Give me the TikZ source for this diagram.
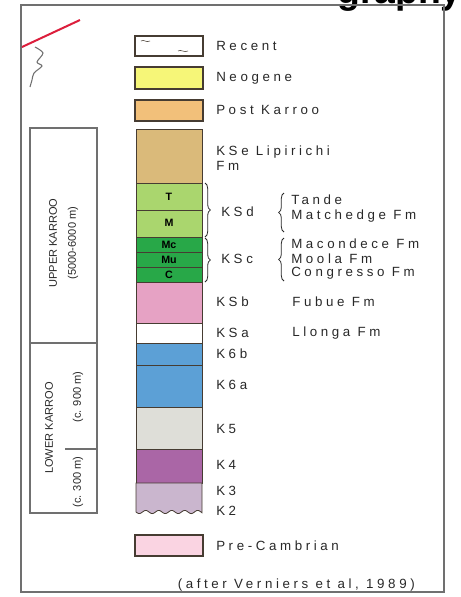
\documentclass[tikz,border=0pt]{standalone}
\usepackage{fontspec}
\setmainfont{Liberation Sans}
\newfontfamily\legfont[LetterSpace=27]{Liberation Sans}
\newfontfamily\sidefont{Liberation Sans}
\usetikzlibrary{decorations.pathreplacing}

\definecolor{framegray}{RGB}{112,112,112}
\definecolor{edgecol}{RGB}{70,60,50}
\definecolor{txtcol}{RGB}{40,40,40}
\definecolor{neocol}{RGB}{246,246,120}
\definecolor{postcol}{RGB}{242,192,122}
\definecolor{ksecol}{RGB}{218,186,122}
\definecolor{ksdcol}{RGB}{170,214,110}
\definecolor{ksccol}{RGB}{40,168,72}
\definecolor{ksbcol}{RGB}{230,162,196}
\definecolor{ksixcol}{RGB}{92,160,214}
\definecolor{kfivecol}{RGB}{222,222,216}
\definecolor{kfourcol}{RGB}{170,102,166}
\definecolor{kthreecol}{RGB}{202,182,206}
\definecolor{precol}{RGB}{250,212,226}
\definecolor{faultred}{RGB}{220,30,60}

\tikzset{
  lab/.style={font=\legfont\fontsize{10}{11}\selectfont, text=txtcol, anchor=west, inner sep=0.75pt},
  side/.style={font=\sidefont\fontsize{8.3}{9}\selectfont, text=txtcol, rotate=90, inner sep=0.75pt},
  bed/.style={draw=edgecol, line width=0.6pt},
  legbox/.style={draw=edgecol, line width=0.9pt},
  brc/.style={draw=txtcol, line width=0.6pt, decorate, decoration={brace, amplitude=4pt}},
  bedlet/.style={font=\sidefont\bfseries\fontsize{8}{9}\selectfont, inner sep=0pt},
}

\begin{document}
\begin{tikzpicture}[x=0.75pt,y=0.75pt,yscale=-1,xscale=1]
\useasboundingbox (0,0) rectangle (461,597);

% cut-off title
\begin{scope}
\clip (0,0) rectangle (461,597);
\node (title) [anchor=base east, inner sep=0pt, font=\bfseries\fontsize{28}{30}\selectfont] at (462,3) {graphy};
\end{scope}

%Shape: Rectangle (outer frame)
\draw [framegray, line width=1.6pt] (21,5) rectangle (444,592) ;

%Straight Lines (fault)
\draw [faultred, line width=1.5pt] (22,47) -- (80,20) ;
\draw [framegray, line width=0.8pt] plot [smooth] coordinates {(35,47) (43,53) (37,62) (42,66) (34,73) (32,80) (30,87)} ;

%Shape: Rectangle (legend boxes)
\draw [legbox, fill=white] (135,36) rectangle (203,56) ;
\draw [edgecol, line width=0.4pt] (141,41) .. controls (144,39) and (146,43) .. (150,41) ;
\draw [edgecol, line width=0.4pt] (178,51) .. controls (181,49) and (184,53) .. (188,51) ;
\draw [legbox, fill=neocol] (135,67) rectangle (203,89) ;
\draw [legbox, fill=postcol] (135,100) rectangle (203,121) ;
\draw [legbox, fill=precol] (135,535) rectangle (203,556) ;

%Shape: column
\filldraw [bed, fill=ksecol] (136,129) rectangle (202,183) ;
\filldraw [bed, fill=ksdcol] (136,183) rectangle (202,210) ;
\filldraw [bed, fill=ksdcol] (136,210) rectangle (202,237) ;
\filldraw [bed, fill=ksccol] (136,237) rectangle (202,252) ;
\filldraw [bed, fill=ksccol] (136,252) rectangle (202,267) ;
\filldraw [bed, fill=ksccol] (136,267) rectangle (202,282) ;
\filldraw [bed, fill=ksbcol] (136,282) rectangle (202,323) ;
\filldraw [bed, fill=white] (136,323) rectangle (202,343) ;
\filldraw [bed, fill=ksixcol] (136,343) rectangle (202,365) ;
\filldraw [bed, fill=ksixcol] (136,365) rectangle (202,407) ;
\filldraw [bed, fill=kfivecol] (136,407) rectangle (202,449) ;
\filldraw [bed, fill=kfourcol] (136,449) rectangle (202,483) ;
\filldraw [bed, fill=kthreecol] (136,483) -- (202,483) -- (202,512)
  -- plot [domain=202:136, samples=50, smooth] (\x,{512+1.6*sin((\x-136)*27.7)}) -- cycle ;

%Shape: left column
\draw [framegray, line width=1.1pt] (30,128) rectangle (97,513) ;
\draw [framegray, line width=1.1pt] (30,343) -- (97,343) ;
\draw [framegray, line width=0.8pt] (65,449) -- (97,449) ;

% Braces
\draw [brc] (205,183) -- (205,237) ;
\draw [brc] (205,238) -- (205,282) ;
\draw [brc] (284,232) -- (284,193) ;
\draw [brc] (284,281) -- (284,238) ;

% Text Node
\node (tlet) [bedlet] at (169,197) {T};
\node (mlet) [bedlet] at (169,223) {M};
\node (mclet) [bedlet] at (169,244.5) {Mc};
\node (mulet) [bedlet] at (169,259.5) {Mu};
\node (clet) [bedlet] at (169,274.5) {C};

% Text Node
\node (recent) [lab] at (215,46) {Recent};
\node (neogene) [lab] at (215,78) {Neogene};
\node (postk) [lab] at (215,110) {Post Karroo};
\node (kse) [lab] at (215,152) {KSe Lipirichi};
\node (kse2) [lab] at (215,166) {Fm};
\node (ksd) [lab] at (220,212) {KSd};
\node (tande) [lab] at (290,200) {Tande};
\node (matched) [lab] at (290,216) {Matchedge Fm};
\node (ksc) [lab] at (220,259) {KSc};
\node (macond) [lab] at (290,244) {Macondece Fm};
\node (moola) [lab] at (290,259) {Moola Fm};
\node (congr) [lab] at (290,273) {Congresso Fm};
\node (ksb) [lab] at (215,302) {KSb};
\node (fubue) [lab] at (291,302) {Fubue Fm};
\node (ksa) [lab] at (215,333) {KSa};
\node (llonga) [lab] at (291,333) {Llonga Fm};
\node (ksixb) [lab] at (215,354) {K6b};
\node (ksixa) [lab] at (215,385) {K6a};
\node (kfive) [lab] at (215,429) {K5};
\node (kfour) [lab] at (215,465) {K4};
\node (kthree) [lab] at (215,491) {K3};
\node (ktwo) [lab] at (215,511) {K2};
\node (precam) [lab] at (215,546) {Pre-Cambrian};
\node (source) [lab, anchor=east] at (416,585) {(after Verniers et al, 1989)};

% Text Node (left column)
\node (upper) [side] at (53,243) {UPPER KARROO};
\node (uppth) [side] at (73,243) {(5000-6000 m)};
\node (lower) [side] at (49,428) {LOWER KARROO};
\node (lowth) [side] at (78,397) {(c. 900 m)};
\node (lowth2) [side] at (78,482) {(c. 300 m)};

\end{tikzpicture}
\end{document}
